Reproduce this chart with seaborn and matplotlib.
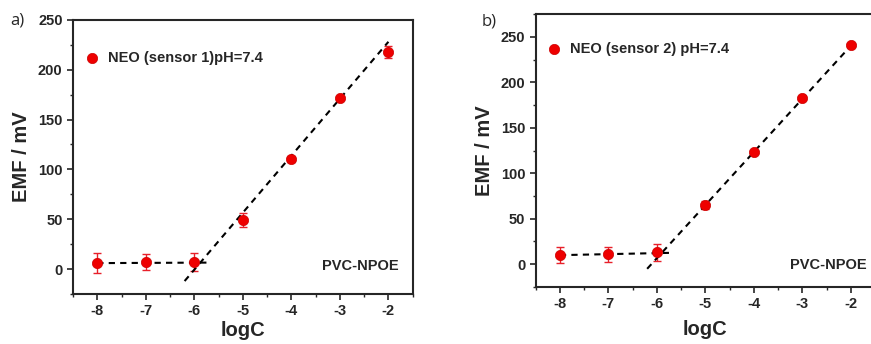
import numpy as np
import pandas as pd
import seaborn as sns
import matplotlib.pyplot as plt
from matplotlib.ticker import MultipleLocator

# data
logc = [-8, -7, -6, -5, -4, -3, -2]

emf_a = [6, 7, 7, 49, 110, 172, 218]
err_a = [10, 8, 9, 7, 3, 2, 6]
flat_a_x = [-8, -5.75]
flat_a_y = [6, 6.5]
fit_a_x = [-6.2, -2.0]
fit_a_y = [-12, 228]

emf_b = [10, 11, 13, 65, 123, 183, 241]
err_b = [9, 8, 9, 4, 2, 2, 2]
flat_b_x = [-8, -5.75]
flat_b_y = [10, 12.5]
fit_b_x = [-6.2, -2.0]
fit_b_y = [-5, 240]

sns.set_style("ticks")
plt.rcParams['font.family'] = ['Liberation Sans', 'DejaVu Sans']
plt.rcParams['axes.unicode_minus'] = False


def panel(ax, y, err, fx, fy, lx, ly, label, ylim, leg_xy, note_xy, xpad):
    df = pd.DataFrame({'logC': logc, 'EMF': y})
    ax.errorbar(logc, y, yerr=err, fmt='none', ecolor='#e8202a',
                elinewidth=1.0, capsize=3, capthick=1.0, zorder=2)
    sns.lineplot(x=fx, y=fy, ax=ax, color='black', linestyle=(0, (3, 2.5)),
                 linewidth=1.5, zorder=3)
    sns.lineplot(x=lx, y=ly, ax=ax, color='black', linestyle=(0, (3, 2.5)),
                 linewidth=1.5, zorder=3)
    sns.scatterplot(data=df, x='logC', y='EMF', ax=ax, color='#ee0000',
                    s=55, edgecolor='#cc0000', linewidth=0.5, zorder=4,
                    label=label)
    ax.set_xlim(-8.5, -1.5)
    ax.set_ylim(*ylim)
    ax.set_xticks(logc)
    ax.set_yticks([0, 50, 100, 150, 200, 250])
    ax.xaxis.set_minor_locator(MultipleLocator(0.5))
    ax.yaxis.set_minor_locator(MultipleLocator(25))
    ax.tick_params(which='major', length=4, width=1.2, labelsize=10.5)
    ax.tick_params(which='minor', length=2.5, width=1.0)
    for t in ax.get_xticklabels() + ax.get_yticklabels():
        t.set_fontweight('bold')
    for s in ax.spines.values():
        s.set_visible(True)
        s.set_linewidth(1.5)
    ax.set_xlabel('logC', fontsize=14.5, fontweight='bold', labelpad=xpad)
    ax.set_ylabel('EMF / mV', fontsize=14.5, fontweight='bold', labelpad=5)
    ax.text(note_xy[0], note_xy[1], 'PVC-NPOE', transform=ax.transAxes,
            ha='right', va='center', fontsize=10.5, fontweight='bold')
    ax.legend(loc='center left', bbox_to_anchor=leg_xy, frameon=False,
              handlelength=1.0, handletextpad=0.6, borderaxespad=0,
              borderpad=0, prop={'size': 10.5, 'weight': 'bold'})


fig = plt.figure(figsize=(8.71, 3.44), dpi=100)
ax1 = fig.add_axes([0.0838, 0.1453, 0.390, 0.797])
ax2 = fig.add_axes([0.615, 0.1657, 0.3896, 0.7936])

panel(ax1, emf_a, err_a, fit_a_x, fit_a_y, flat_a_x, flat_a_y,
      'NEO (sensor 1)pH=7.4', (-25, 250), (0.035, 0.861), (0.958, 0.102), 2)
panel(ax2, emf_b, err_b, fit_b_x, fit_b_y, flat_b_x, flat_b_y,
      'NEO (sensor 2) pH=7.4', (-25, 275), (0.033, 0.872), (0.976, 0.081), 6)

fig.text(0.012, 0.93, 'a)', fontsize=12, family=['Open Sans', 'DejaVu Sans'])
fig.text(0.553, 0.925, 'b)', fontsize=12, family=['Open Sans', 'DejaVu Sans'])

fig.savefig('out.png', dpi=100)
